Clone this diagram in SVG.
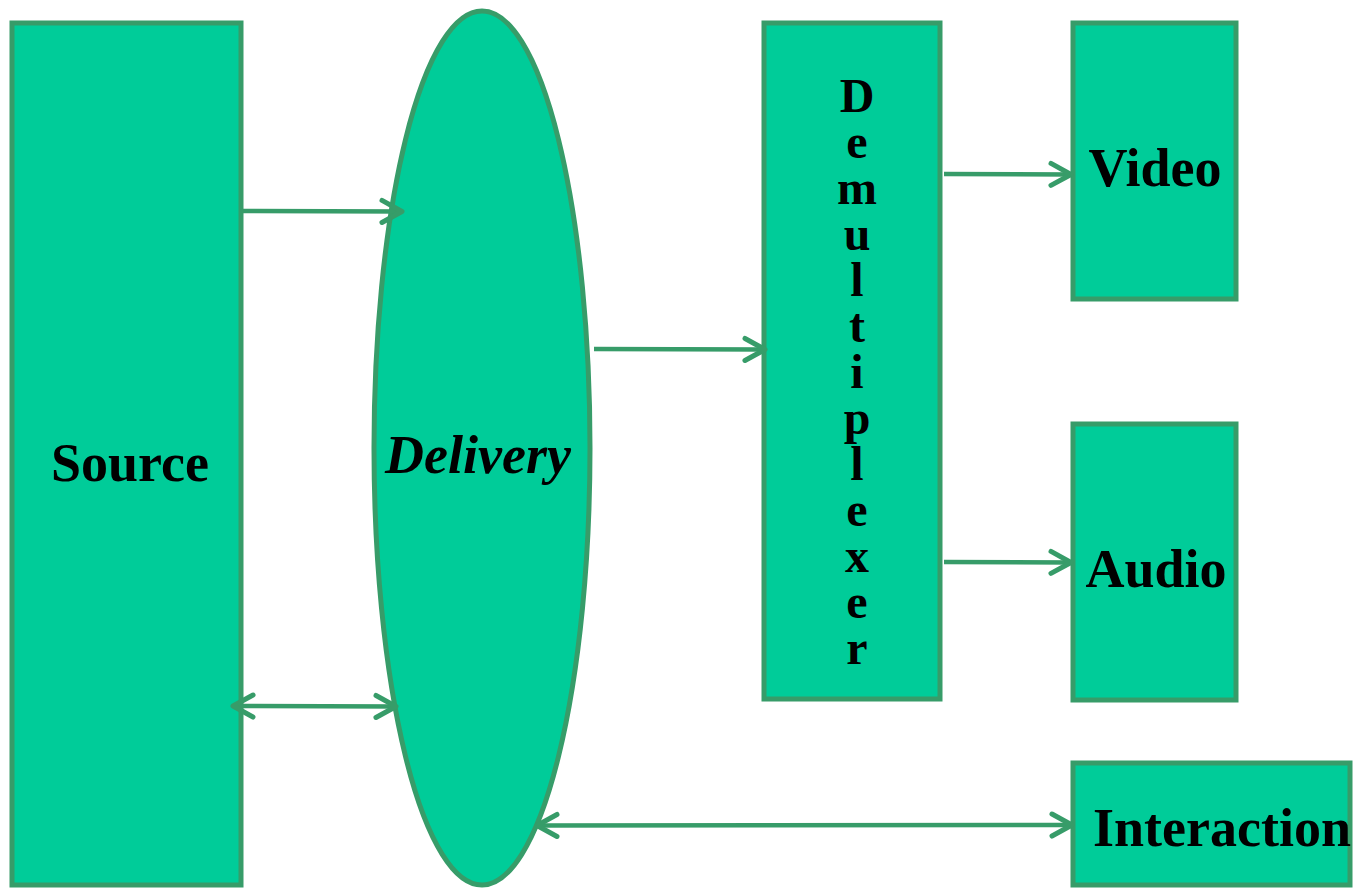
<svg xmlns="http://www.w3.org/2000/svg" width="1354" height="889" viewBox="0 0 1354 889">
<defs>
<style>
.n{fill:#00cc99;stroke:#379c69;stroke-width:5}
.t{font-family:"Liberation Serif",serif;font-weight:bold;font-size:54px;fill:#000;text-anchor:middle}
.c{stroke:#379c69;stroke-width:4.5;fill:none}
.d{font-size:48px}
</style>
<marker id="ah" viewBox="0 0 30 30" refX="25" refY="15" markerWidth="30" markerHeight="30" markerUnits="userSpaceOnUse" orient="auto-start-reverse">
<path d="M5,4 L25,15 L5,26" fill="none" stroke="#379c69" stroke-width="5" stroke-linecap="round" stroke-linejoin="round"/>
</marker>
</defs>
<g id="source"><rect class="n" x="12" y="23" width="229" height="862"/><text class="t" x="130" y="481">Source</text></g>
<g id="delivery"><ellipse class="n" cx="482" cy="448" rx="108" ry="437"/><text class="t" x="478" y="473" font-style="italic">Delivery</text></g>
<g id="demux"><rect class="n" x="764" y="23" width="176" height="676"/>
<text class="t d" x="857"><tspan x="857" y="112">D</tspan><tspan x="857" y="158">e</tspan><tspan x="857" y="204">m</tspan><tspan x="857" y="250">u</tspan><tspan x="857" y="296">l</tspan><tspan x="857" y="342">t</tspan><tspan x="857" y="388">i</tspan><tspan x="857" y="434">p</tspan><tspan x="857" y="480">l</tspan><tspan x="857" y="526">e</tspan><tspan x="857" y="572">x</tspan><tspan x="857" y="618">e</tspan><tspan x="857" y="664">r</tspan></text></g>
<g id="video"><rect class="n" x="1073" y="23" width="163" height="276"/><text class="t" x="1155" y="186">Video</text></g>
<g id="audio"><rect class="n" x="1073" y="424" width="163" height="276"/><text class="t" x="1156" y="587">Audio</text></g>
<g id="interaction"><rect class="n" x="1073" y="763" width="277" height="122"/><text class="t" x="1222" y="846">Interaction</text></g>
<g id="connectors">
<line class="c" x1="243" y1="211" x2="402" y2="211.5" marker-end="url(#ah)"/>
<line class="c" x1="594" y1="349" x2="765" y2="349.5" marker-end="url(#ah)"/>
<line class="c" x1="944" y1="174" x2="1071" y2="174.5" marker-end="url(#ah)"/>
<line class="c" x1="944" y1="562" x2="1071" y2="562.5" marker-end="url(#ah)"/>
<line class="c" x1="233" y1="706" x2="396" y2="706.5" marker-start="url(#ah)" marker-end="url(#ah)"/>
<line class="c" x1="537" y1="825.5" x2="1072" y2="825" marker-start="url(#ah)" marker-end="url(#ah)"/>
</g>
</svg>
